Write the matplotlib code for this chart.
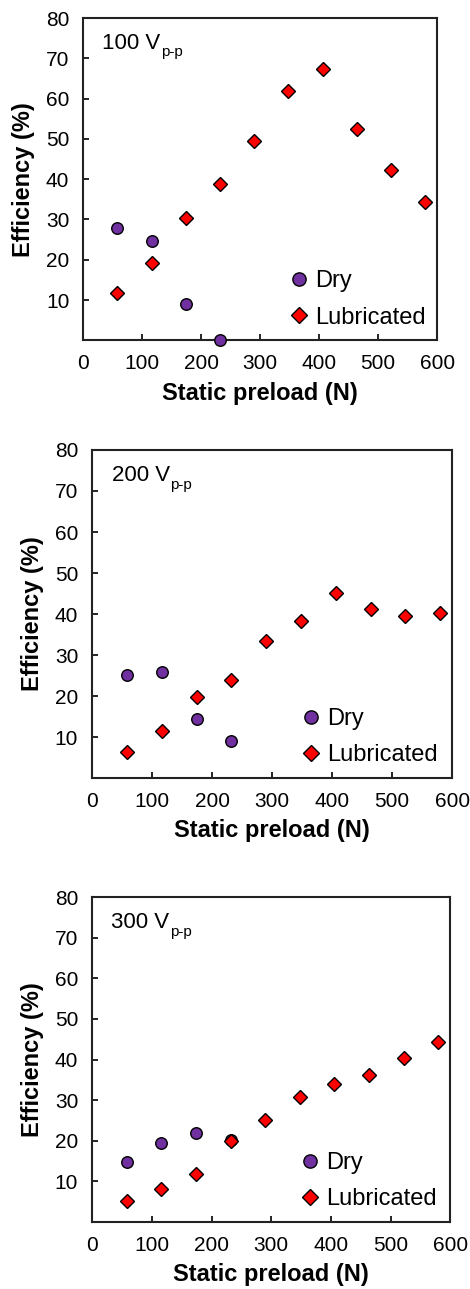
import numpy as np
import matplotlib
matplotlib.use("Agg")
import matplotlib.pyplot as plt

plt.rcParams['font.family'] = ['Liberation Sans', 'DejaVu Sans']

preload = [58, 116, 174, 232, 290, 348, 406, 464, 522, 580]
dry_preload = [58, 116, 174, 232]

voltages = ["100", "200", "300"]

dry_100 = [28.0, 24.6, 8.9, 0.0]
lub_100 = [11.8, 19.1, 30.3, 38.8, 49.5, 62.0, 67.4, 52.5, 42.3, 34.3]

dry_200 = [25.2, 25.8, 14.5, 9.0]
lub_200 = [6.3, 11.5, 19.7, 24.0, 33.5, 38.3, 45.2, 41.2, 39.4, 40.2]

dry_300 = [14.7, 19.4, 21.9, 20.3]
lub_300 = [5.2, 8.2, 11.9, 19.9, 25.1, 30.8, 34.1, 36.1, 40.5, 44.3]

dry_sets = [dry_100, dry_200, dry_300]
lub_sets = [lub_100, lub_200, lub_300]

PURPLE = '#7030A0'
RED = '#FF0000'

fig = plt.figure(figsize=(4.70, 12.89), dpi=100)

rects = [
    [0.177, 0.736, 0.753, 0.250],
    [0.196, 0.3964, 0.766, 0.2545],
    [0.196, 0.052, 0.762, 0.252],
]

for i in range(3):
    ax = fig.add_axes(rects[i])
    ax.plot(dry_preload, dry_sets[i], 'o', color=PURPLE, mec='black', mew=1.0,
            ms=8.3, label='Dry', clip_on=False, zorder=3)
    ax.plot(preload, lub_sets[i], 'D', color=RED, mec='black', mew=1.0,
            ms=6.7, label='Lubricated', clip_on=False, zorder=4)

    ax.set_xlim(0, 600)
    ax.set_ylim(0, 80)
    ax.set_xticks(np.arange(0, 700, 100))
    ax.set_yticks(np.arange(0, 90, 10))
    ax.set_yticklabels([''] + [str(v) for v in range(10, 90, 10)])
    ax.tick_params(direction='in', length=4, width=1.2, labelsize=15, pad=10,
                   colors='black')
    for s in ax.spines.values():
        s.set_linewidth(1.5)
        s.set_color('#222222')

    ax.set_xlabel('Static preload (N)', fontsize=17, fontweight='bold', labelpad=6)
    ax.set_ylabel('Efficiency (%)', fontsize=17, fontweight='bold', labelpad=8)

    t = ax.text(0.054, 0.922, voltages[i] + ' V', transform=ax.transAxes,
                fontsize=16, va='center', ha='left')
    ax.annotate('p-p', xy=(1, 0), xycoords=t, xytext=(0.5, -4),
                textcoords='offset points', fontsize=11, va='bottom', ha='left')

    ax.legend(loc='lower left', bbox_to_anchor=(0.535, -0.015), frameon=False,
              fontsize=17, handlelength=0.8, handletextpad=0.3,
              labelspacing=0.6, borderpad=0.2, markerscale=1.15)

fig.savefig('out.png', dpi=100)
